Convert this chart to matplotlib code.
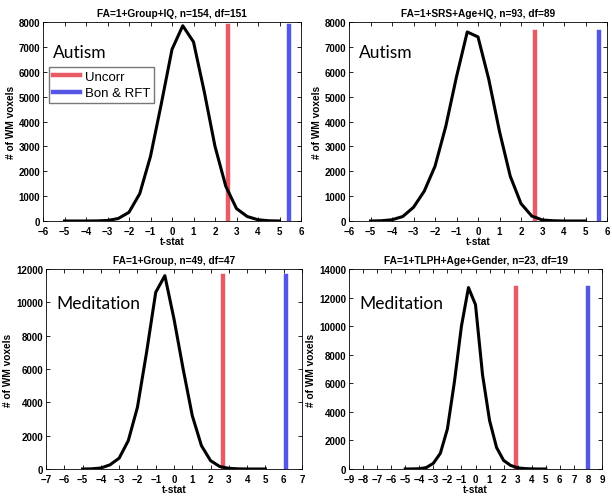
import numpy as np
import matplotlib.pyplot as plt

plt.rcParams['font.family'] = ['Liberation Sans', 'DejaVu Sans']

# t-stat sample points (same for all panels)
t = np.arange(-5, 5.01, 0.5)

# voxel counts
autism_group = [0, 0, 0, 5, 20, 100, 350, 1100, 2600, 4700, 6900, 7850,
                7200, 5200, 3000, 1400, 500, 180, 50, 10, 0]
autism_srs = [0, 10, 50, 180, 550, 1200, 2200, 3800, 5800, 7600, 7400, 5700,
              3600, 1800, 700, 200, 40, 10, 0, 0, 0]
medit_group = [0, 10, 60, 250, 650, 1700, 3700, 7000, 10600, 11600, 9000, 6000,
               3200, 1400, 500, 150, 40, 10, 0, 0, 0]
medit_tlph = [0, 5, 20, 100, 400, 1100, 2800, 6100, 10000, 12700, 11500, 6600,
              3400, 1500, 600, 250, 80, 30, 10, 0, 0]

titles = ["FA=1+Group+IQ, n=154, df=151", "FA=1+SRS+Age+IQ, n=93, df=89",
          "FA=1+Group, n=49, df=47", "FA=1+TLPH+Age+Gender, n=23, df=19"]
labels = ["Autism", "Autism", "Meditation", "Meditation"]
uncorr = [2.62, 2.65, 2.7, 2.85]
bon_rft = [5.45, 5.65, 6.15, 8.0]
xlims = [6, 6, 7, 9]
ymaxs = [8000, 8000, 12000, 14000]
ysteps = [1000, 1000, 2000, 2000]
series = [autism_group, autism_srs, medit_group, medit_tlph]

fig = plt.figure(figsize=(6.12, 5.02), dpi=100)
W, H = 612, 502
# axes boxes in pixels: left, top, right, bottom
boxes = [(43, 23, 301, 222), (349, 23, 607, 222),
         (46, 270, 302, 470), (349, 270, 602, 470)]

red = '#e85a64'
blue = '#5555e6'

for i in range(4):
    l, tp, r, b = boxes[i]
    ax = fig.add_axes([l / W, 1 - b / H, (r - l) / W, (b - tp) / H])
    y = series[i]
    top = max(y)
    ax.plot(t, y, color='black', lw=2.2, zorder=3)
    ax.plot([uncorr[i], uncorr[i]], [0, top], color=red, lw=3.2, label='Uncorr')
    ax.plot([bon_rft[i], bon_rft[i]], [0, top], color=blue, lw=3.2, label='Bon & RFT')
    ax.set_xlim(-xlims[i], xlims[i])
    ax.set_ylim(0, ymaxs[i])
    ax.set_xticks(np.arange(-xlims[i], xlims[i] + 1, 1))
    ax.set_yticks(np.arange(0, ymaxs[i] + 1, ysteps[i]))
    ax.tick_params(direction='in', top=True, right=True, length=3, width=0.6,
                   labelsize=7, pad=2)
    ax.tick_params(axis='x', pad=3.5)
    for lab in ax.get_xticklabels() + ax.get_yticklabels():
        lab.set_fontweight('bold')
    for s in ax.spines.values():
        s.set_linewidth(0.6)
    ax.set_title(titles[i], fontsize=7.3, fontweight='bold', pad=4)
    ax.set_xlabel('t-stat', fontsize=7.3, fontweight='bold', labelpad=0)
    ax.set_ylabel('# of WM voxels', fontsize=7.3, fontweight='bold', labelpad=2)
    ax.text(0.04, 0.85 if i < 2 else 0.83, labels[i], transform=ax.transAxes,
            fontsize=12.5, family='Lato', va='center')
    if i == 0:
        ax.legend(loc='upper left', bbox_to_anchor=(0.025, 0.775), fontsize=9.5,
                  frameon=True, fancybox=False, edgecolor='#555555',
                  handlelength=2.0, borderpad=0.3, labelspacing=0.3,
                  handletextpad=0.4, borderaxespad=0)

fig.savefig('out.png', dpi=100)
